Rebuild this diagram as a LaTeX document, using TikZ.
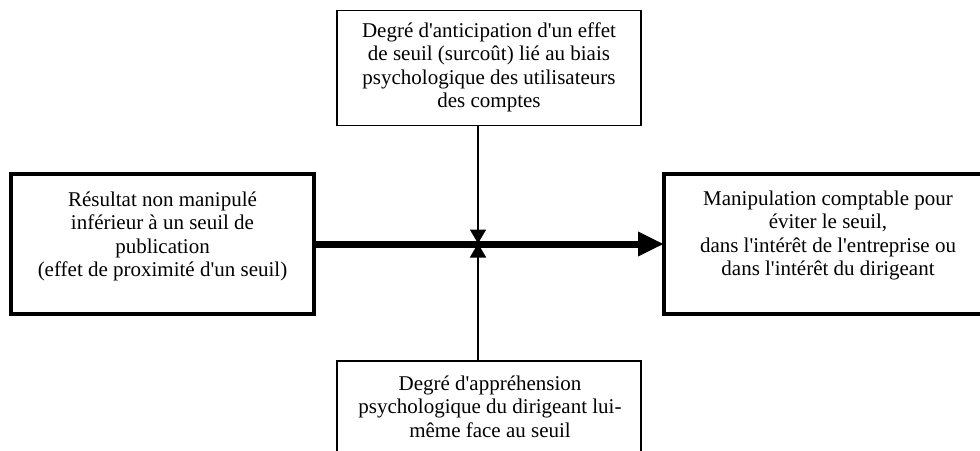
\documentclass[tikz,border=0pt]{standalone}
\usepackage{fontspec}
\setmainfont{Liberation Serif}[Ligatures=TeXOff]
\usetikzlibrary{arrows.meta}
\tikzset{
	thickbox/.style={draw, line width=4pt, outer sep=0pt, minimum height=140pt},
	thinbox/.style={draw, line width=1.6pt, outer sep=0pt, minimum width=304pt},
	boxtext/.style={inner sep=0pt, font=\fontsize{21}{23.5}\selectfont},
	bigarrow/.style={line width=7pt, -{Triangle[length=26pt,width=23pt]}},
	smallarrow/.style={line width=1.8pt, -{Triangle[length=14pt,width=16pt]}}
}
\newcommand{\seuilbox}[5]{
	\node [#2] (#1) at (#3) {};
	\node [boxtext] (#1text) at (#4) {\begin{tabular}{c}#5\end{tabular}};}

\begin{document}
\begin{tikzpicture}[x=1pt,y=-1pt]
	\useasboundingbox (0,0) rectangle (980,450);
	\clip (0,0) rectangle (980,450);
	\seuilbox{resultat}{thickbox, minimum width=303pt}{162.5,244}{162.5,237}{Résultat non manipulé\\ inférieur à un seuil de\\ publication\\ (effet de proximité d'un seuil)}
	\seuilbox{manip}{thickbox, minimum width=320pt}{824,244}{828,236}{Manipulation comptable pour\\ éviter le seuil,\\ dans l'intérêt de l'entreprise ou\\ dans l'intérêt du dirigeant}
	\seuilbox{anticipation}{thinbox, minimum height=115pt}{489,68}{489,68}{Degré d'anticipation d'un effet\\ de seuil (surcoût) lié au biais\\ psychologique des utilisateurs\\ des comptes}
	\seuilbox{apprehension}{thinbox, minimum height=100pt}{489,411}{490,409}{Degré d'appréhension\\ psychologique du dirigeant lui-\\ même face au seuil}
	\coordinate (meet) at (478,243.5);
	\draw [bigarrow] (resultat) -- (manip);
	\draw [smallarrow] (anticipation.south -| meet) -- (meet);
	\draw [smallarrow] (apprehension.north -| meet) -- (meet);
\end{tikzpicture}
\end{document}
